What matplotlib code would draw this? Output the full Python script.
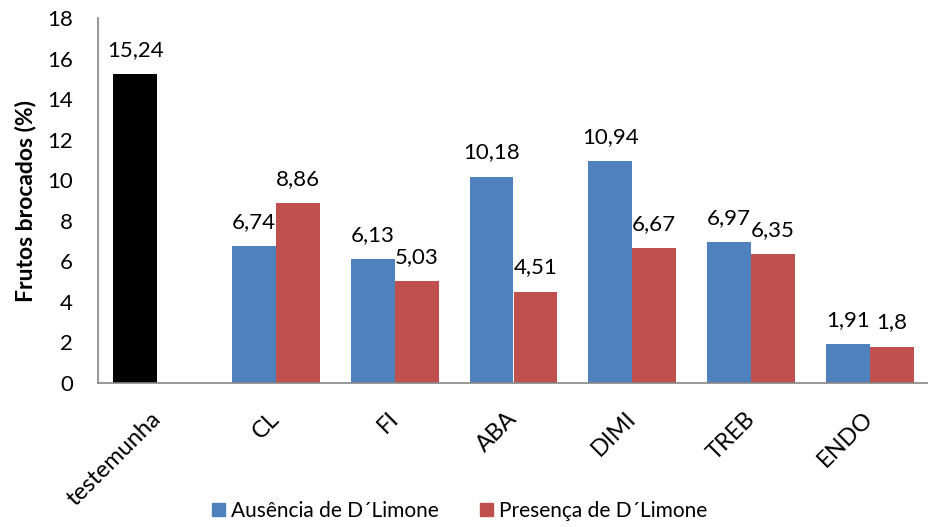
import matplotlib
matplotlib.use("Agg")
import matplotlib.pyplot as plt
import matplotlib.transforms as mtransforms
from matplotlib.patches import Patch
import numpy as np

categories = ["testemunha", "CL", "FI", "ABA", "DIMI", "TREB", "ENDO"]
ausencia = [15.24, 6.74, 6.13, 10.18, 10.94, 6.97, 1.91]
presenca = [np.nan, 8.86, 5.03, 4.51, 6.67, 6.35, 1.80]
series_names = ["Ausência de D´Limone", "Presença de D´Limone"]
yticks = [0, 2, 4, 6, 8, 10, 12, 14, 16, 18]

plt.rcParams['font.family'] = ['Lato', 'DejaVu Sans']

fig = plt.figure(figsize=(9.29, 5.27), dpi=100)
ax = fig.add_axes([98/929, 1 - 383/527, 1 - 98/929, (383 - 18)/527])

x = np.arange(len(categories))
w = 0.37
blue = "#4F81BD"
red = "#C0504D"
colors_a = ["#000000"] + [blue] * (len(categories) - 1)

ax.bar(x - w/2, ausencia, w, color=colors_a, label=series_names[0])
ax.bar(x + w/2, presenca, w, color=red, label=series_names[1])

def fmt(v):
    s = ("%.2f" % v).rstrip('0').rstrip('.')
    return s.replace('.', ',')

for xs, vals in ((x - w/2, ausencia), (x + w/2, presenca)):
    for xi, v in zip(xs, vals):
        if not np.isnan(v):
            ax.annotate(fmt(v), (xi, v), xytext=(0, 13), textcoords='offset points',
                        ha='center', va='baseline', fontsize=16)

ax.set_xlim(-0.5, len(categories) - 0.5)
ax.set_ylim(0, 18)
ax.set_yticks(yticks)
ax.set_yticklabels([str(t) for t in yticks], fontsize=16)
ax.set_xticks(x)
ax.set_xticklabels(categories, rotation=45, ha='right', rotation_mode='anchor', fontsize=17)
ax.tick_params(axis='both', length=0)
ax.tick_params(axis='y', pad=18)
ax.tick_params(axis='x', pad=18)
shift = mtransforms.ScaledTranslation(-0.07, 0, fig.dpi_scale_trans)
for lbl in ax.get_xticklabels():
    lbl.set_transform(lbl.get_transform() + shift)
for s in ['top', 'right']:
    ax.spines[s].set_visible(False)
for s in ['left', 'bottom']:
    ax.spines[s].set_color('#868686')
    ax.spines[s].set_linewidth(1.2)

ax.set_ylabel("Frutos brocados (%)", fontsize=16.5, fontweight='bold', labelpad=8)

handles = [Patch(color=blue), Patch(color=red)]
fig.legend(handles, series_names, loc='center', bbox_to_anchor=(0.495, 0.030), ncol=2,
           frameon=False, fontsize=15, handlelength=0.6, handleheight=0.6,
           handletextpad=0.3, columnspacing=2.0)

fig.savefig("out.png", dpi=100)
